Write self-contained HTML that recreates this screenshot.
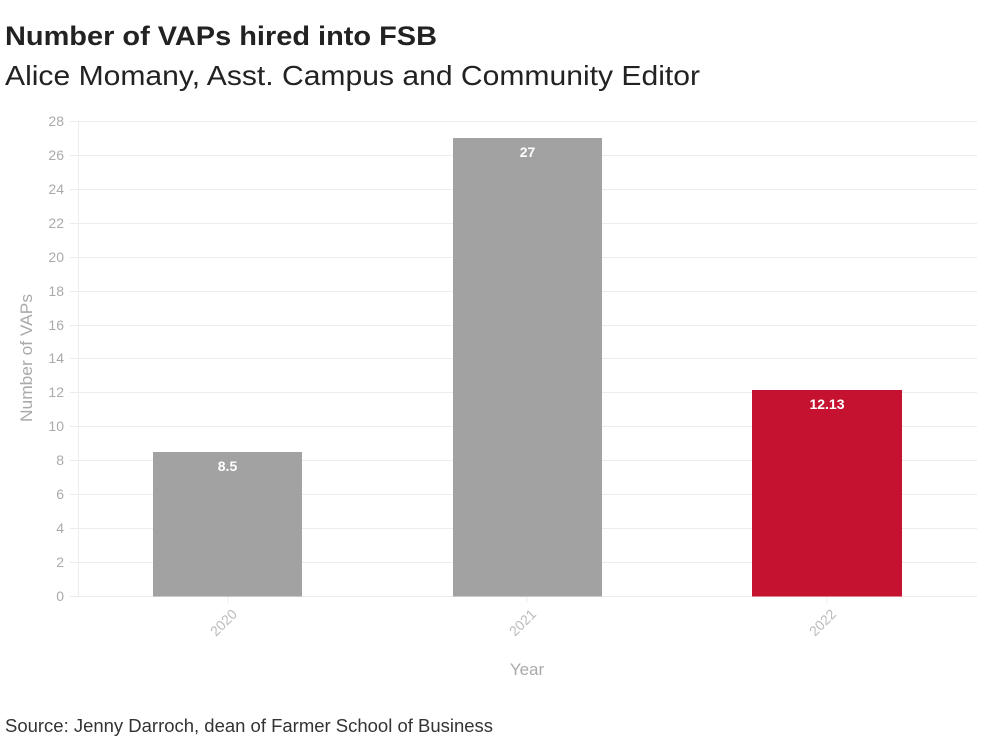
<!DOCTYPE html>
<html><head><meta charset="utf-8"><style>
html,body{margin:0;padding:0;background:#fff;}
svg{display:block;}
text{font-family:"Liberation Sans",sans-serif;}
</style></head><body>
<svg width="1000" height="750" viewBox="0 0 1000 750" xmlns="http://www.w3.org/2000/svg">
<rect width="1000" height="750" fill="#fff"/>
<text x="5" y="45" font-size="27" font-weight="bold" fill="#222" textLength="432" lengthAdjust="spacingAndGlyphs">Number of VAPs hired into FSB</text>
<text x="5" y="85" font-size="28" fill="#222" textLength="695" lengthAdjust="spacingAndGlyphs">Alice Momany, Asst. Campus and Community Editor</text>

<g stroke="#ececec" stroke-width="1">
<line x1="70" y1="121.5" x2="977" y2="121.5"/>
<line x1="70" y1="155.5" x2="977" y2="155.5"/>
<line x1="70" y1="189.5" x2="977" y2="189.5"/>
<line x1="70" y1="223.5" x2="977" y2="223.5"/>
<line x1="70" y1="257.5" x2="977" y2="257.5"/>
<line x1="70" y1="291.5" x2="977" y2="291.5"/>
<line x1="70" y1="325.5" x2="977" y2="325.5"/>
<line x1="70" y1="358.5" x2="977" y2="358.5"/>
<line x1="70" y1="392.5" x2="977" y2="392.5"/>
<line x1="70" y1="426.5" x2="977" y2="426.5"/>
<line x1="70" y1="460.5" x2="977" y2="460.5"/>
<line x1="70" y1="494.5" x2="977" y2="494.5"/>
<line x1="70" y1="528.5" x2="977" y2="528.5"/>
<line x1="70" y1="562.5" x2="977" y2="562.5"/>
<line x1="70" y1="596.5" x2="977" y2="596.5"/>
<line x1="78.5" y1="121" x2="78.5" y2="597"/>
<line x1="228" y1="597" x2="228" y2="603"/>
<line x1="527" y1="597" x2="527" y2="603"/>
<line x1="827" y1="597" x2="827" y2="603"/>
</g>

<g font-size="14" fill="#aaa" text-anchor="end">
<text x="64" y="126">28</text>
<text x="64" y="160">26</text>
<text x="64" y="194">24</text>
<text x="64" y="228">22</text>
<text x="64" y="262">20</text>
<text x="64" y="296">18</text>
<text x="64" y="330">16</text>
<text x="64" y="363">14</text>
<text x="64" y="397">12</text>
<text x="64" y="431">10</text>
<text x="64" y="465">8</text>
<text x="64" y="499">6</text>
<text x="64" y="533">4</text>
<text x="64" y="567">2</text>
<text x="64" y="601">0</text>
</g>

<text transform="translate(32,358) rotate(-90)" font-size="17" fill="#aaa" text-anchor="middle" textLength="128" lengthAdjust="spacingAndGlyphs">Number of VAPs</text>

<rect x="153" y="452" width="149" height="144.5" fill="#a2a2a2"/>
<rect x="453" y="138" width="149" height="458.5" fill="#a2a2a2"/>
<rect x="752" y="390" width="150" height="206.5" fill="#c41230"/>

<g font-size="14" font-weight="bold" fill="#fff" text-anchor="middle">
<text x="227.5" y="471">8.5</text>
<text x="527.5" y="157">27</text>
<text x="827" y="409">12.13</text>
</g>

<g font-size="14" fill="#bbb" text-anchor="end">
<text transform="translate(238,615) rotate(-45)">2020</text>
<text transform="translate(537,615) rotate(-45)">2021</text>
<text transform="translate(837,615) rotate(-45)">2022</text>
</g>

<text x="527" y="675" font-size="17" fill="#aaa" text-anchor="middle">Year</text>

<text x="5" y="732" font-size="18" fill="#333" textLength="488" lengthAdjust="spacingAndGlyphs">Source: Jenny Darroch, dean of Farmer School of Business</text>
</svg>
</body></html>
